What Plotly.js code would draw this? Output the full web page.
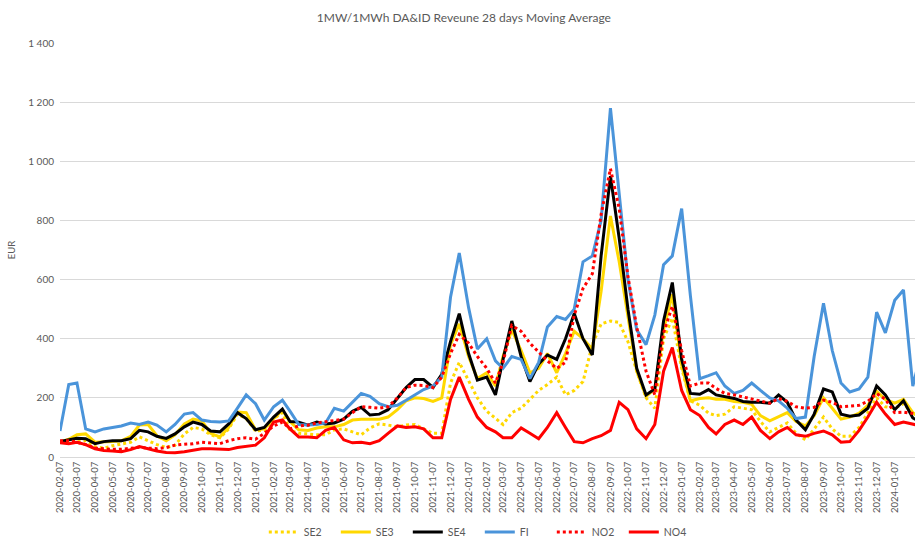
<!DOCTYPE html>
<html>
<head>
<meta charset="utf-8">
<script src="https://cdn.plot.ly/plotly-3.0.1.min.js"></script>
<style>html,body{margin:0;padding:0;background:#fff;}#chart{width:915px;height:537px;}</style>
</head>
<body>
<div id="chart"></div>
<script>
// Dates (about every half month)
const dates = [
 '2020-02-07','2020-02-22','2020-03-07','2020-03-22','2020-04-07','2020-04-22','2020-05-07','2020-05-22','2020-06-07','2020-06-22','2020-07-07','2020-07-22','2020-08-07','2020-08-22','2020-09-07','2020-09-22','2020-10-07','2020-10-22','2020-11-07','2020-11-22','2020-12-07','2020-12-22',
 '2021-01-07','2021-01-22','2021-02-07','2021-02-22','2021-03-07','2021-03-22','2021-04-07','2021-04-22','2021-05-07','2021-05-22','2021-06-07','2021-06-22','2021-07-07','2021-07-22','2021-08-07','2021-08-22','2021-09-07','2021-09-22','2021-10-07','2021-10-22','2021-11-07','2021-11-22','2021-12-07','2021-12-22',
 '2022-01-07','2022-01-22','2022-02-07','2022-02-22','2022-03-07','2022-03-22','2022-04-07','2022-04-22','2022-05-07','2022-05-22','2022-06-07','2022-06-22','2022-07-07','2022-07-22','2022-08-07','2022-08-22','2022-09-07','2022-09-22','2022-10-07','2022-10-22','2022-11-07','2022-11-22','2022-12-07','2022-12-22',
 '2023-01-07','2023-01-22','2023-02-07','2023-02-22','2023-03-07','2023-03-22','2023-04-07','2023-04-22','2023-05-07','2023-05-22','2023-06-07','2023-06-22','2023-07-07','2023-07-22','2023-08-07','2023-08-22','2023-09-07','2023-09-22','2023-10-07','2023-10-22','2023-11-07','2023-11-22','2023-12-07','2023-12-22',
 '2024-01-07','2024-01-22','2024-02-07','2024-02-14'
];

const SE2 = [50,52,60,55,35,30,38,45,50,68, 55,42,32,40,78,100,95,75,65,95, 145,130,88,90,130,150,90,80,78,75,
 75,92,95,85,75,98,112,108,102,108, 110,95,80,80,250,320,260,200,155,130, 110,150,165,195,225,245,270,210,225,255,
 380,450,460,455,390,290,200,165,400,470, 300,190,175,148,140,145,170,165,160,120, 85,100,115,80,58,95,135,95,70,70,
 100,150,200,170,165,180,148,140];

const SE3 = [50,60,75,78,50,50,52,55,70,108, 110,72,55,75,112,128,122,80,68,100, 152,150,92,95,130,158,120,92,90,98,
 102,102,110,125,128,128,128,135,160,190, 200,198,188,200,380,450,340,265,285,240, 340,430,360,285,300,350,285,350,425,400,
 365,560,815,660,480,290,205,230,430,550, 310,190,198,200,195,195,188,185,178,140, 122,135,150,120,105,140,200,165,128,135,
 148,175,222,195,182,195,150,140];

const SE4 = [52,58,63,62,45,52,55,55,62,90, 85,70,63,78,102,118,110,88,85,112, 150,130,92,100,135,162,120,118,108,118,
 112,115,128,155,168,142,145,160,200,235, 262,262,235,280,390,485,350,260,270,210, 330,460,340,255,315,345,330,400,485,400,
 345,680,950,740,500,300,210,230,460,590, 330,215,212,228,210,205,198,188,185,185, 182,210,185,125,92,145,230,220,145,138,
 142,165,240,210,160,190,132,125];

const FI = [88,245,250,95,85,95,100,105,115,110, 118,108,85,110,145,150,125,120,118,122, 165,210,180,125,170,192,155,110,108,110,
 115,165,155,185,215,205,180,170,175,192, 210,228,240,270,540,690,505,365,400,325, 300,340,330,265,320,440,475,465,500,660,
 680,800,1180,880,600,430,380,480,650,680, 840,545,265,275,285,240,215,225,250,225, 200,190,165,130,135,340,520,360,250,220,
 230,270,490,420,530,565,240,295];

const NO2 = [55,55,50,42,30,27,26,26,30,33, 30,28,32,40,43,45,50,48,45,55, 62,65,60,80,105,118,95,105,108,115,
 120,125,128,150,170,168,165,170,200,235, 243,242,235,270,350,415,385,340,300,250, 320,445,425,385,355,325,300,320,480,570,
 620,820,975,840,610,440,290,210,420,510, 360,240,250,250,232,215,210,203,198,190, 182,198,188,170,165,168,192,185,170,172,
 175,188,215,195,150,152,148,145];

const NO4 = [48,45,50,42,28,22,20,18,25,35, 28,20,15,14,18,24,28,28,27,25, 32,35,40,65,118,125,95,68,68,65,
 90,100,58,48,50,45,55,80,105,100, 102,95,65,65,195,270,195,135,100,85, 65,65,98,80,62,100,150,100,52,48,
 62,72,90,185,160,95,62,110,290,370, 225,160,140,100,78,110,125,110,135,90, 62,85,100,75,70,80,88,75,50,52,
 90,135,185,145,110,118,110,108];

const xTickVals = [];
const xTickText = [];
for (let y = 2020; y <= 2024; y++) {
  for (let m = 1; m <= 12; m++) {
    const s = y + '-' + String(m).padStart(2,'0') + '-07';
    if (s >= '2020-02-07' && s <= '2024-02-07') { xTickVals.push(s); xTickText.push(s); }
  }
}
const yTickVals = [0,200,400,600,800,1000,1200,1400];
const yTickText = ['0','200','400','600','800','1 000','1 200','1 400'];

const seriesNames = ['SE2','SE3','SE4','FI','NO2','NO4'];
const seriesData = [SE2,SE3,SE4,FI,NO2,NO4];
const styles = [
  {color:'#FFD800', width:3, dash:'dot'},
  {color:'#FFD800', width:3, dash:'solid'},
  {color:'#000000', width:3, dash:'solid'},
  {color:'#4A94DA', width:3, dash:'solid'},
  {color:'#FF0000', width:3, dash:'dot'},
  {color:'#FF0000', width:3, dash:'solid'}
];

const traces = seriesNames.map((n,i) => ({
  x: dates, y: seriesData[i], name: n, type: 'scatter', mode: 'lines',
  line: Object.assign({shape:'linear'}, styles[i]), hoverinfo: 'skip'
}));

const font = {family: 'Lato, "Open Sans", sans-serif', color: '#595959'};

const layout = {
  width: 915, height: 537,
  margin: {l: 60, r: 0, t: 43, b: 80, autoexpand: false},
  paper_bgcolor: '#fff', plot_bgcolor: '#fff',
  font: Object.assign({size: 10}, font),
  title: {text: '1MW/1MWh DA&ID Reveune 28 days Moving Average', font: Object.assign({size: 12}, font),
          x: 0.507, xref: 'container', xanchor: 'center', y: 0.966, yref: 'container', yanchor: 'middle'},
  showlegend: true,
  legend: {orientation: 'h', x: 0.491, xanchor: 'center', y: -0.181, yanchor: 'middle',
           font: Object.assign({size: 10.5}, font), traceorder: 'normal', itemwidth: 30,
           entrywidth: 27, entrywidthmode: 'pixels'},
  xaxis: {type: 'date', range: ['2020-02-07', '2024-02-10 18:00'], tickmode: 'array', automargin: false,
          tickvals: xTickVals, ticktext: xTickText, tickangle: -90, tickfont: Object.assign({size: 9.5}, font),
          showgrid: false, showline: true, linecolor: '#D9D9D9', linewidth: 1, ticks: '', zeroline: false, fixedrange: true},
  yaxis: {range: [0, 1400], tickmode: 'array', tickvals: yTickVals, ticktext: yTickText, automargin: false,
          tickfont: Object.assign({size: 10}, font), showgrid: true, gridcolor: '#D9D9D9', gridwidth: 1,
          zeroline: false, showline: false, ticks: '', ticklabelstandoff: 5,
          title: {text: 'EUR', font: Object.assign({size: 9.5}, font), standoff: 10}, fixedrange: true}
};

Plotly.newPlot('chart', traces, layout, {displayModeBar: false, staticPlot: true});
</script>
</body>
</html>
